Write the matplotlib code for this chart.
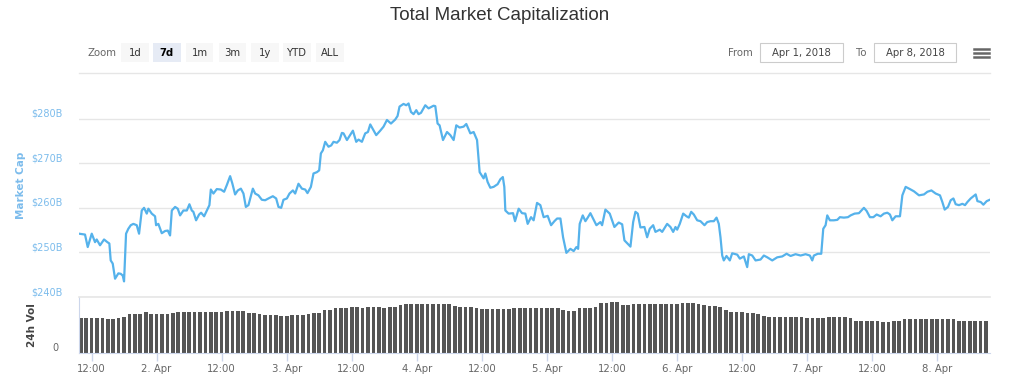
import numpy as np
import matplotlib
matplotlib.use("Agg")
import matplotlib.pyplot as plt
from matplotlib.patches import Rectangle

# ---------------- data ----------------
# time in hours since 2018-04-01 00:00, market cap in $B
cap_hours = [9.69, 10.80, 11.30, 12.04, 12.65, 12.96, 13.57, 14.31, 14.92, 15.29, 15.54, 15.91,
             16.34, 16.95, 17.39, 17.76, 18.00, 18.37, 18.79, 19.24, 19.72, 20.34, 20.77, 21.27,
             21.69, 22.19, 22.49, 23.11, 23.72, 23.91, 24.33, 24.96, 25.57, 26.07, 26.49, 26.81,
             27.42, 27.91, 28.34, 28.95, 29.58, 30.06, 30.50, 30.79, 31.29, 31.85, 32.22, 32.77,
             33.27, 33.75, 34.01, 34.49, 35.11, 35.85, 36.46, 36.96, 37.57, 37.99, 38.49, 38.99,
             39.55, 40.03, 40.47, 40.95, 41.76, 42.19, 42.79, 43.42, 44.03, 44.64, 45.45, 46.06,
             46.49, 46.99, 47.41, 48.04, 48.52, 49.15, 49.57, 50.18, 50.81, 51.42, 51.84, 52.47,
             52.95, 53.58, 54.00, 54.31, 54.68, 55.11, 55.72, 56.22, 56.64, 57.27, 57.75, 58.19,
             58.49, 59.12, 59.60, 60.22, 60.83, 61.26, 61.88, 62.49, 62.99, 63.42, 63.92, 64.52,
             65.26, 65.87, 66.50, 67.24, 68.03, 68.46, 68.82, 69.56, 70.06, 70.49, 70.93, 71.41,
             71.91, 72.33, 72.78, 73.57, 74.18, 75.10, 75.42, 75.84, 76.21, 76.84, 77.58, 78.19,
             78.80, 79.29, 79.90, 80.64, 81.14, 81.88, 82.49, 83.12, 83.60, 84.33, 84.65, 85.07,
             85.57, 86.18, 86.92, 87.42, 87.88, 88.15, 88.34, 88.95, 89.76, 90.13, 90.80, 91.42,
             92.03, 92.46, 93.08, 93.56, 94.19, 94.80, 95.41, 96.15, 96.78, 97.39, 97.89, 98.50,
             98.99, 99.60, 100.34, 100.95, 101.45, 101.77, 102.06, 102.62, 103.11, 103.54, 104.03,
             104.53, 105.14, 105.88, 106.19, 106.80, 107.60, 108.46, 109.26, 109.89, 110.31,
             111.42, 111.92, 112.34, 112.77, 113.26, 114.00, 114.50, 114.98, 115.61, 116.03,
             116.83, 117.27, 118.19, 118.80, 119.30, 119.73, 120.04, 120.52, 121.15, 121.76,
             122.18, 122.63, 123.11, 123.73, 124.34, 125.08, 125.58, 126.19, 126.80, 127.30,
             127.72, 128.03, 128.35, 128.64, 129.14, 129.75, 130.19, 131.12, 131.60, 132.34,
             132.96, 133.26, 133.89, 134.50, 135.42, 136.03, 136.66, 137.58, 138.50, 139.43,
             140.22, 140.96, 141.88, 142.81, 143.73, 144.52, 144.96, 145.26, 145.99, 146.62,
             146.99, 147.42, 147.73, 148.21, 148.95, 149.58, 150.06, 150.80, 151.54, 152.03,
             152.77, 153.57, 154.49, 154.99, 155.60, 156.23, 156.84, 157.57, 158.18, 158.81,
             159.29, 159.73, 160.34, 161.14, 161.58, 162.19, 162.98, 163.72, 164.65, 165.57,
             166.20, 166.94, 167.73, 168.52, 168.96, 169.39, 170.00, 170.50, 171.00, 171.42,
             172.03, 172.66, 173.14, 173.58, 174.19, 174.69, 175.11, 175.43, 176.04, 176.53,
             177.14, 177.70]
cap_values = [254.2, 254.0, 251.2, 254.2, 252.3, 252.9, 251.6, 252.9, 252.3, 252.0, 248.2, 247.5,
              244.1, 245.3, 245.2, 244.8, 243.5, 254.2, 255.3, 256.1, 256.4, 256.1, 254.2, 259.4,
              260.0, 258.7, 259.8, 258.7, 258.1, 256.1, 256.4, 254.3, 254.8, 254.9, 253.8, 259.4,
              260.2, 259.8, 258.3, 259.4, 259.4, 260.8, 259.4, 259.1, 257.2, 258.5, 258.9, 258.1,
              259.4, 260.6, 264.1, 263.2, 264.2, 264.1, 263.6, 265.1, 267.1, 265.4, 263.0, 263.9,
              264.3, 263.2, 260.2, 260.6, 264.3, 263.2, 262.8, 261.8, 261.7, 262.1, 262.6, 262.1,
              260.2, 260.0, 261.8, 262.1, 263.2, 263.9, 263.2, 265.4, 264.3, 264.1, 263.3, 264.7,
              267.7, 268.0, 268.4, 272.2, 272.9, 274.8, 273.7, 274.0, 274.8, 274.6, 275.2, 276.8,
              276.7, 275.2, 276.1, 277.3, 274.8, 275.3, 274.8, 276.7, 277.0, 278.7, 277.6, 276.3,
              277.3, 278.2, 279.7, 278.9, 279.8, 280.6, 282.7, 283.3, 283.0, 283.4, 281.5, 281.0,
              281.9, 281.0, 281.3, 283.0, 282.3, 282.9, 282.8, 278.9, 278.5, 275.2, 277.0, 276.3,
              275.2, 278.5, 278.0, 278.2, 278.8, 276.7, 277.0, 275.2, 268.0, 266.6, 267.7, 265.8,
              264.5, 264.7, 265.3, 266.4, 266.9, 264.7, 259.4, 258.7, 258.8, 257.0, 259.8, 258.8,
              258.7, 256.4, 257.9, 257.2, 261.1, 260.6, 257.9, 258.2, 256.1, 257.0, 257.6, 257.6,
              253.4, 249.9, 250.8, 250.3, 251.2, 250.8, 256.4, 258.3, 257.0, 257.8, 258.8,
              257.6, 256.1, 256.8, 256.1, 259.6, 258.7, 255.7, 256.7, 256.3, 252.7,
              251.3, 256.8, 259.1, 258.7, 255.6, 255.7, 253.4, 255.3, 256.1, 254.6,
              255.1, 254.6, 256.4, 255.7, 254.6, 255.7, 255.1, 256.4, 258.7, 258.1,
              257.8, 259.1, 258.5, 257.2, 257.0, 256.1, 256.8, 257.0, 257.0, 257.8,
              256.4, 253.4, 249.3, 248.2, 249.2, 248.2, 249.8, 249.5, 248.6, 249.1,
              246.7, 249.6, 249.3, 248.2, 248.4, 249.3, 248.9, 248.2, 248.9, 249.1,
              249.7, 249.2, 249.6, 249.3, 249.6, 249.3, 248.2, 249.3, 249.7, 249.7,
              255.3, 256.1, 258.3, 257.2, 257.2, 257.3, 257.9, 257.8, 257.9, 258.3,
              258.7, 258.8, 260.0, 259.3, 257.9, 257.9, 258.5, 258.1, 258.7, 258.9,
              258.5, 257.2, 258.1, 258.1, 262.8, 264.7, 264.2, 263.7, 262.8, 263.0,
              263.6, 263.9, 263.2, 262.8, 261.3, 259.6, 260.2, 261.7, 262.1, 260.8,
              260.6, 260.9, 260.6, 261.3, 262.1, 262.6, 263.0, 261.5, 261.3, 260.7,
              261.5, 261.8]

# hourly 24h volume ($B), hours 10 .. 177 since 2018-04-01 00:00
vol_start_hour = 10
vol_values = [12.4, 12.4, 12.4, 12.5, 12.4, 12.2, 12.0, 12.6, 12.7, 13.8, 13.9, 14.0,
              14.5, 14.1, 14.0, 14.0, 14.0, 14.4, 14.5, 14.5, 14.6, 14.5, 14.5, 14.5,
              14.5, 14.6, 14.5, 15.0, 15.1, 15.1, 15.0, 14.3, 14.2, 13.8, 13.7, 13.6,
              13.4, 13.3, 13.3, 13.6, 13.7, 13.7, 13.8, 14.3, 14.4, 15.2, 15.4, 15.9,
              16.0, 16.0, 16.3, 16.3, 16.2, 16.3, 16.3, 16.3, 16.2, 16.3, 16.3, 17.3,
              17.4, 17.4, 17.5, 17.4, 17.4, 17.4, 17.5, 17.6, 17.5, 16.8, 16.5, 16.5,
              16.4, 15.9, 15.8, 15.8, 15.8, 15.8, 15.8, 15.8, 16.0, 16.0, 16.0, 16.0,
              16.0, 15.9, 16.0, 16.0, 16.0, 15.3, 15.1, 15.1, 15.9, 16.0, 16.1, 16.4,
              18.0, 18.0, 18.2, 18.3, 17.1, 17.0, 17.5, 17.5, 17.5, 17.5, 17.5, 17.5,
              17.5, 17.5, 17.6, 17.7, 17.7, 17.7, 17.6, 17.0, 16.8, 16.7, 16.6, 15.2,
              14.8, 14.7, 14.6, 14.3, 14.2, 14.0, 13.2, 13.0, 13.0, 13.0, 13.0, 13.0,
              13.0, 12.9, 12.5, 12.4, 12.4, 12.4, 12.8, 12.8, 12.8, 12.7, 12.6, 11.6,
              11.5, 11.5, 11.5, 11.4, 11.2, 11.2, 11.3, 11.4, 12.1, 12.2, 12.2, 12.2,
              12.1, 12.1, 12.1, 12.1, 12.1, 12.0, 11.4, 11.4, 11.4, 11.4, 11.4, 11.4]

tick_hours = [12, 24, 36, 48, 60, 72, 84, 96, 108, 120, 132, 144, 156, 168]
tick_labels = ["12:00", "2. Apr", "12:00", "3. Apr", "12:00", "4. Apr", "12:00",
               "5. Apr", "12:00", "6. Apr", "12:00", "7. Apr", "12:00", "8. Apr"]
cap_ticks = [240, 250, 260, 270, 280]
cap_tick_labels = ["$240B", "$250B", "$260B", "$270B", "$280B"]
zoom_buttons = ["1d", "7d", "1m", "3m", "1y", "YTD", "ALL"]
selected_button = "7d"
date_from = "Apr 1, 2018"
date_to = "Apr 8, 2018"

# ---------------- layout ----------------
W, H = 1024, 382
fig = plt.figure(figsize=(W / 100, H / 100), dpi=100)
fig.patch.set_facecolor("white")


def fx(px):
    return px / W


def fy(py):
    return 1 - py / H


LINE_C = "#55b2eb"
LABEL_BLUE = "#7cbcec"
GRID_C = "#e6e6e6"
AXIS_C = "#ccd6eb"
TXT = "#666666"

x0, x1 = 79, 990
ax = fig.add_axes([fx(x0), fy(297), fx(x1 - x0), (297 - 95) / H])
axv = fig.add_axes([fx(x0), fy(353), fx(x1 - x0), (353 - 297) / H], sharex=ax)

xmin, xmax = 9.69, 177.75
ax.plot(cap_hours, cap_values, color=LINE_C, lw=1.6, solid_joinstyle="round")
ax.set_xlim(xmin, xmax)
ax.set_ylim(240, 285.3)
ax.set_yticks(cap_ticks)
ax.set_yticklabels(cap_tick_labels)
for lab in ax.get_yticklabels():
    lab.set_verticalalignment("bottom")
ax.tick_params(axis="y", length=0, pad=12, labelsize=7, labelcolor=LABEL_BLUE)
ax.tick_params(axis="x", length=0, labelbottom=False)
ax.grid(axis="y", color=GRID_C, lw=1)
ax.set_axisbelow(True)
for s in ax.spines.values():
    s.set_visible(False)

vol_hours = [vol_start_hour + i for i in range(len(vol_values))]
axv.bar(vol_hours, vol_values, width=0.68, color="#555555", edgecolor="none")
axv.set_ylim(0, 20)
axv.set_yticks([0])
axv.set_yticklabels(["0"])
axv.tick_params(axis="y", length=0, pad=15, labelsize=7, labelcolor=TXT)
axv.set_xticks(tick_hours)
axv.set_xticklabels(tick_labels)
axv.tick_params(axis="x", length=6, width=1, color=AXIS_C, labelsize=7.3, labelcolor=TXT, pad=2)
for lab in axv.get_yticklabels():
    lab.set_verticalalignment("bottom")
axv.spines["right"].set_visible(False)
axv.spines["top"].set_color(GRID_C)
axv.spines["top"].set_linewidth(1.2)
axv.spines["left"].set_color(AXIS_C)
axv.spines["bottom"].set_color(AXIS_C)
axv.set_xlim(xmin, xmax)

# axis titles
fig.text(fx(21), fy(185), "Market Cap", rotation=90, ha="center", va="center",
         color=LABEL_BLUE, fontsize=7.5, fontweight="bold")
fig.text(fx(32), fy(325), "24h Vol", rotation=90, ha="center", va="center",
         color="#444444", fontsize=7.5, fontweight="bold")

# title
fig.text(fx(500), fy(15), "Total Market Capitalization", ha="center", va="center",
         fontsize=13.5, color="#333333", family="Liberation Sans")

# separator under the range selector
fig.add_artist(plt.Line2D([fx(79), fx(990)], [fy(73), fy(73)], color=GRID_C, lw=1))

# range selector
fig.text(fx(88), fy(52.5), "Zoom", ha="left", va="center", fontsize=7.3, color=TXT)
btn_lefts = [121, 153, 186, 219, 251, 283, 316]
btn_widths = [28, 28, 27, 27, 28, 28, 28]
for name, bl, bw in zip(zoom_buttons, btn_lefts, btn_widths):
    sel = name == selected_button
    fig.add_artist(Rectangle((fx(bl), fy(62)), fx(bw), (62 - 43) / H,
                             facecolor="#e6ebf5" if sel else "#f7f7f7",
                             edgecolor="none", transform=fig.transFigure))
    fig.text(fx(bl + bw / 2), fy(52.5), name, ha="center", va="center", fontsize=7.3,
             color="#000000" if sel else "#333333",
             fontweight="bold" if sel else "normal")

fig.text(fx(753), fy(52.5), "From", ha="right", va="center", fontsize=7.3, color=TXT)
fig.add_artist(Rectangle((fx(760), fy(62)), fx(83), (62 - 43) / H, facecolor="white",
                         edgecolor="#cccccc", lw=0.8, transform=fig.transFigure))
fig.text(fx(801.5), fy(52.5), date_from, ha="center", va="center", fontsize=7.3, color="#444444")
fig.text(fx(866), fy(52.5), "To", ha="right", va="center", fontsize=7.3, color=TXT)
fig.add_artist(Rectangle((fx(874), fy(62)), fx(82), (62 - 43) / H, facecolor="white",
                         edgecolor="#cccccc", lw=0.8, transform=fig.transFigure))
fig.text(fx(915), fy(52.5), date_to, ha="center", va="center", fontsize=7.3, color="#444444")

# hamburger menu icon
for yy in (48.5, 52.5, 56.5):
    fig.add_artist(plt.Line2D([fx(974), fx(989)], [fy(yy), fy(yy)], color="#666666", lw=1.8))

fig.savefig("out.png", dpi=100, facecolor="white")
